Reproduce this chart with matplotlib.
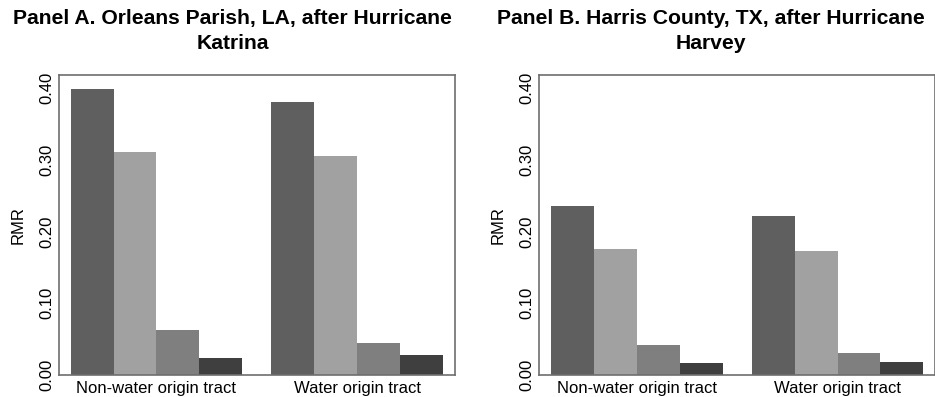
import numpy as np
import matplotlib
matplotlib.use("Agg")
import matplotlib.pyplot as plt

plt.rcParams['font.family'] = ['Liberation Sans', 'DejaVu Sans']

groups = ["Non-water origin tract", "Water origin tract"]
panel_titles = ["Panel A. Orleans Parish, LA, after Hurricane\nKatrina",
                "Panel B. Harris County, TX, after Hurricane\nHarvey"]

# four series per group, in draw order (left to right)
katrina = [[0.399, 0.311, 0.063, 0.023],
           [0.380, 0.305, 0.045, 0.028]]
harvey = [[0.235, 0.176, 0.042, 0.017],
          [0.222, 0.173, 0.030, 0.018]]
bar_colors = ["#5f5f5f", "#a1a1a1", "#7f7f7f", "#3f3f3f"]
yticks = [0.0, 0.1, 0.2, 0.3, 0.4]

fig = plt.figure(figsize=(9.35, 3.97), dpi=100)
ax_pos = [[0.0628, 0.0554, 0.4238, 0.7557],
          [0.5765, 0.0554, 0.4238, 0.7557]]
title_x = [0.249, 0.7604]

gap = 0.68
for k, data in enumerate([katrina, harvey]):
    ax = fig.add_axes(ax_pos[k])
    centers = []
    for g, vals in enumerate(data):
        x0 = g * (4 + gap)
        xs = x0 + np.arange(4)
        ax.bar(xs, vals, width=1.0, color=bar_colors, linewidth=0)
        centers.append(xs.mean())
    ax.set_xlim(-0.78, 3 + 4 + gap + 0.5 + 0.28)
    ax.set_ylim(0, 0.418)
    ax.set_yticks(yticks)
    ax.set_yticklabels([f"{v:.2f}" for v in yticks], rotation=90, va='center', fontsize=12)
    ax.set_xticks(centers)
    ax.set_xticklabels(groups, fontsize=12)
    ax.tick_params(length=0, pad=4)
    ax.tick_params(axis='y', pad=3)
    ax.set_ylabel("RMR", fontsize=12, labelpad=10)
    for s in ax.spines.values():
        s.set_color("#6e6e6e")
        s.set_linewidth(1.2)
    fig.text(title_x[k], 0.977, panel_titles[k], ha='center', va='top',
             fontsize=15.2, fontweight='bold', linespacing=1.4)

fig.savefig("out.png", dpi=100)
